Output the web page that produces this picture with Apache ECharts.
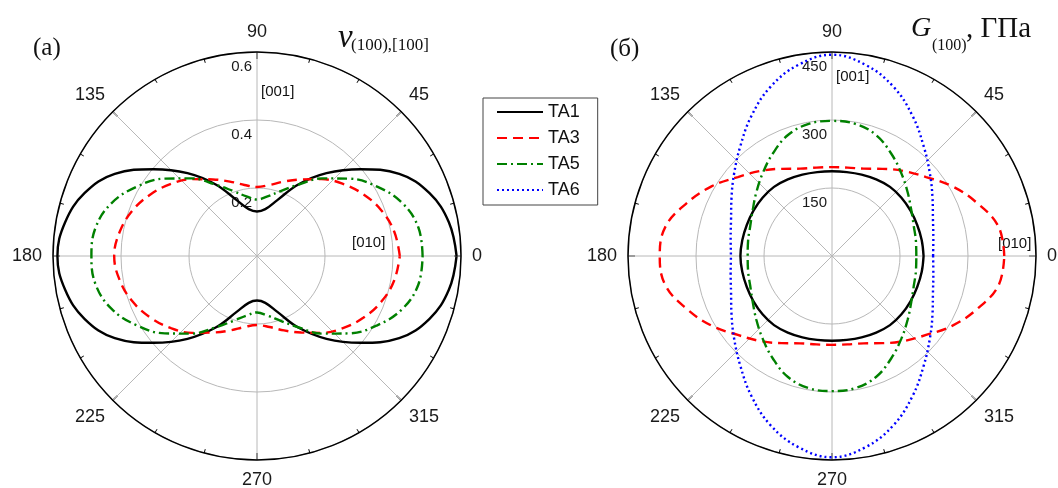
<!DOCTYPE html>
<html><head><meta charset="utf-8">
<script src="https://cdn.jsdelivr.net/npm/echarts@6/dist/echarts.min.js"></script>
<style>html,body{margin:0;padding:0;background:#fff}#c{width:1058px;height:488px}</style>
</head><body><div id="c"></div>
<script>
// Angles (degrees) at which values were read
const angles = [0,10,20,30,40,50,60,70,80,90,100,110,120,130,140,150,160,170,180,190,200,210,220,230,240,250,260,270,280,290,300,310,320,330,340,350,360];
const seriesNames = ['TA1','TA3','TA5','TA6'];
const angleTicks = [0,45,90,135,180,225,270,315];

// (a) Poisson ratio nu(100),[100]
const nuTA1 = [0.587,0.573,0.54,0.483,0.397,0.318,0.243,0.175,0.14,0.131,0.14,0.175,0.243,0.318,0.397,0.483,0.54,0.573,0.587,0.573,0.54,0.483,0.397,0.318,0.243,0.175,0.14,0.131,0.14,0.175,0.243,0.318,0.397,0.483,0.54,0.573,0.587];
const nuTA3 = [0.42,0.41,0.39,0.362,0.33,0.295,0.26,0.233,0.212,0.203,0.212,0.233,0.26,0.295,0.33,0.362,0.39,0.41,0.42,0.41,0.39,0.362,0.33,0.295,0.26,0.233,0.212,0.203,0.212,0.233,0.26,0.295,0.33,0.362,0.39,0.41,0.42];
const nuTA5 = [0.487,0.482,0.455,0.408,0.354,0.298,0.242,0.203,0.178,0.166,0.178,0.203,0.242,0.298,0.354,0.408,0.455,0.482,0.487,0.482,0.455,0.408,0.354,0.298,0.242,0.203,0.178,0.166,0.178,0.203,0.242,0.298,0.354,0.408,0.455,0.482,0.487];
const nuTicks = [0.2,0.4,0.6];

// (б) Shear modulus G(100), GPa
const gTA1 = [202,201,200,200,200,199,195,191,188,187,188,191,195,199,200,200,200,201,202,201,200,200,200,199,195,191,188,187,188,191,195,199,200,200,200,201,202];
const gTA3 = [380,373,341,307,271,245,222,205,198,196,198,205,222,245,271,307,341,373,380,373,341,307,271,245,222,205,198,196,198,205,222,245,271,307,341,373,380];
const gTA5 = [186,188,192,202,218,238,261,284,296,298,296,284,261,238,218,202,192,188,186,188,192,202,218,238,261,284,296,298,296,284,261,238,218,202,192,188,186];
const gTA6 = [223,227,237,256,282,315,356,397,428,444,428,397,356,315,282,256,237,227,223,227,237,256,282,315,356,397,428,444,428,397,356,315,282,256,237,227,223];
const gTicks = [150,300,450];

// angle axis runs 90..450 so that the radius axis points up; 0..89 deg map to 360..449
function toPolar(vals){ return angles.map((a,i)=>[vals[i], a < 90 ? a + 360 : a]); }

const styles = {
  TA1:{color:'#000000', type:'solid'},
  TA3:{color:'#ff0000', type:[10,6]},
  TA5:{color:'#008000', type:[10,4,2,4]},
  TA6:{color:'#0000ff', type:[2,3]}
};
function mkSeries(name, vals, pIdx){
  const s = styles[name];
  return {name, type:'line', coordinateSystem:'polar', polarIndex:pIdx, data:toPolar(vals),
    symbol:'none', showSymbol:false, smooth:0.4, silent:true, z:5,
    itemStyle:{color:s.color}, lineStyle:{color:s.color, width:2.4, type:s.type}};
}
function mkAngle(pIdx){
  return {polarIndex:pIdx, type:'value', min:90, max:450, interval:45, startAngle:90, clockwise:false,
    axisLine:{show:true, lineStyle:{color:'#000', width:1.5}},
    axisTick:{show:true, inside:true, length:7, lineStyle:{color:'#000', width:1.2}},
    minorTick:{show:true, splitNumber:3, length:4, lineStyle:{color:'#000', width:1}},
    splitLine:{show:true, lineStyle:{color:'#b8b8b8', width:1}},
    axisLabel:{margin:11, fontSize:18, color:'#1a1a1a', fontFamily:'Liberation Sans',
      formatter: v => { const d = v % 360; return (v === 450 || angleTicks.indexOf(d) < 0) ? '' : String(d); }}
  };
}
function mkRadius(pIdx, max, interval, ticks){
  return {polarIndex:pIdx, type:'value', min:0, max:max, interval:interval,
    axisLine:{show:false}, axisTick:{show:false},
    splitLine:{show:true, lineStyle:{color:'#b8b8b8', width:1}},
    axisLabel:{showMinLabel:false, fontSize:15, color:'#1a1a1a', fontFamily:'Liberation Sans', margin:5,
      verticalAlign:'top', padding:[7,0,0,0],
      formatter: v => { const t = ticks.find(x => Math.abs(x - v) < 1e-6); return t === undefined ? '' : String(t); }}
  };
}

const serif = '"Liberation Serif", "DejaVu Serif", serif';
const sans = '"Liberation Sans", Arial, sans-serif';
function txt(x, y, text, font){
  return {type:'text', x:x, y:y, style:{text:text, font:font, fill:'#111', verticalAlign:'middle', align:'left'}};
}

const chart = echarts.init(document.getElementById('c'), null, {renderer:'canvas'});
chart.setOption({
  animation:false,
  backgroundColor:'#ffffff',
  polar:[{center:[257,256], radius:204}, {center:[832,256], radius:204}],
  angleAxis:[mkAngle(0), mkAngle(1)],
  radiusAxis:[mkRadius(0, 0.6, 0.2, nuTicks), mkRadius(1, 450, 150, gTicks)],
  legend:{orient:'vertical', left:483, top:98, itemWidth:46, itemHeight:14, itemGap:8,
    padding:[5,18,6,13], borderColor:'#444', borderWidth:1, data:seriesNames,
    itemStyle:{opacity:0},
    textStyle:{fontSize:18, fontFamily:sans, color:'#111'}},
  series:[
    mkSeries('TA1', nuTA1, 0), mkSeries('TA3', nuTA3, 0), mkSeries('TA5', nuTA5, 0),
    mkSeries('TA1', gTA1, 1), mkSeries('TA3', gTA3, 1), mkSeries('TA5', gTA5, 1), mkSeries('TA6', gTA6, 1)
  ],
  graphic:[
    txt(33, 48, '(a)', '25px ' + serif),
    txt(338, 38, 'ν', 'italic 33px ' + serif),
    txt(351, 46, '(100),[100]', '17px ' + serif),
    txt(610, 49, '(б)', '25px ' + serif),
    txt(911, 29, 'G', 'italic 28px ' + serif),
    txt(932, 46, '(100)', '16px ' + serif),
    txt(966, 29, ', ГПа', '29px ' + serif),
    txt(261, 92, '[001]', '15px ' + sans),
    txt(352, 243, '[010]', '15px ' + sans),
    txt(836, 77, '[001]', '15px ' + sans),
    txt(998, 244, '[010]', '15px ' + sans)
  ]
});
</script>
</body></html>
